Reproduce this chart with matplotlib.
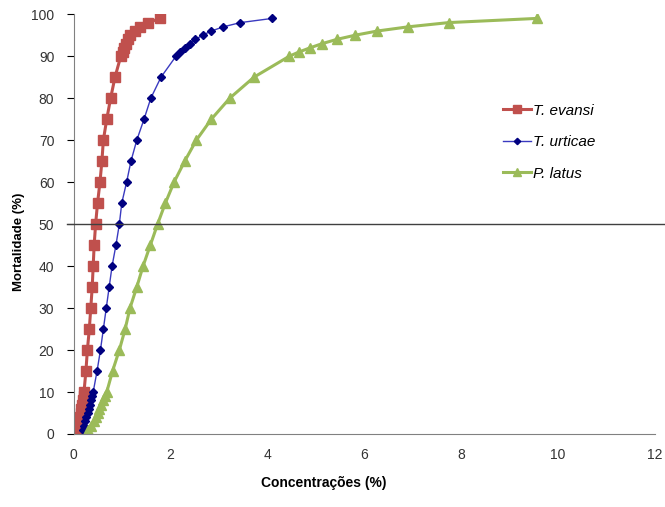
import matplotlib

matplotlib.use("Agg")
import matplotlib.pyplot as plt
from matplotlib.lines import Line2D

plt.rcParams.update({"font.family": ["Liberation Sans", "DejaVu Sans"], "font.size": 10})

# mortality levels (%) shared by all three series
mortality = list(range(1, 11)) + list(range(15, 90, 5)) + list(range(90, 100))

# concentration (%) needed for each mortality level
t_evansi = [0.05, 0.08, 0.10, 0.12, 0.14, 0.15, 0.17, 0.18, 0.20, 0.21,
            0.25, 0.28, 0.32, 0.35, 0.38, 0.40, 0.42, 0.45, 0.49, 0.54,
            0.58, 0.61, 0.68, 0.76, 0.85,
            0.97, 1.01, 1.03, 1.07, 1.11, 1.17, 1.26, 1.36, 1.54, 1.78]
t_urticae = [0.18, 0.21, 0.24, 0.26, 0.29, 0.31, 0.33, 0.35, 0.37, 0.40,
             0.48, 0.55, 0.61, 0.67, 0.73, 0.79, 0.87, 0.94, 0.99, 1.09,
             1.18, 1.30, 1.45, 1.59, 1.80,
             2.11, 2.20, 2.29, 2.40, 2.51, 2.66, 2.84, 3.09, 3.44, 4.10]
p_latus = [0.30, 0.36, 0.41, 0.45, 0.49, 0.53, 0.57, 0.61, 0.64, 0.68,
           0.80, 0.94, 1.06, 1.16, 1.30, 1.43, 1.58, 1.73, 1.89, 2.07,
           2.29, 2.53, 2.84, 3.22, 3.72,
           4.45, 4.65, 4.88, 5.13, 5.43, 5.81, 6.27, 6.91, 7.74, 9.57]

x_ticks = [0, 2, 4, 6, 8, 10, 12]
y_ticks = list(range(0, 101, 10))

fig = plt.figure(figsize=(6.65, 5.07), dpi=100)
ax = fig.add_axes([0.111, 0.144, 0.874, 0.828])

ax.plot(t_evansi, mortality, color="#C0504D", lw=2.2, marker="s", ms=7,
        mec="#C0504D", label="T. evansi")
ax.plot(t_urticae, mortality, color="#3A3AC0", lw=1.0, marker="D", ms=3.8,
        mfc="#000080", mec="#000080", label="T. urticae")
ax.plot(p_latus, mortality, color="#9BBB59", lw=2.2, marker="^", ms=7,
        mec="#9BBB59", label="P. latus")

# reference line at 50 % mortality, running past both axis edges
fig.add_artist(Line2D([0.100, 1.0], [0.144 + 0.828 * 0.5] * 2,
                      color="#404040", lw=1.0))

ax.set_xlim(0, 12)
ax.set_ylim(0, 100)
ax.set_xticks(x_ticks)
ax.set_yticks(y_ticks)
ax.tick_params(axis="x", length=0, pad=10, labelcolor="#333333")
ax.tick_params(axis="y", length=5, direction="out", labelcolor="#333333", pad=9)
for side in ("top", "right"):
    ax.spines[side].set_visible(False)
for side in ("left", "bottom"):
    ax.spines[side].set_color("#808080")

ax.set_xlabel("Concentrações (%)", fontsize=10, fontweight="bold")
ax.set_ylabel("Mortalidade (%)", fontsize=9.5, fontweight="bold")
ax.xaxis.set_label_coords(0.43, -0.10)
ax.yaxis.set_label_coords(-0.084, 0.457)

ax.legend(loc="upper left", bbox_to_anchor=(0.715, 0.82), frameon=False,
          prop={"style": "italic", "size": 11}, handlelength=1.8,
          handletextpad=0.15, labelspacing=1.15, markerscale=0.85)

fig.savefig("out.png", dpi=100)
plt.close(fig)
